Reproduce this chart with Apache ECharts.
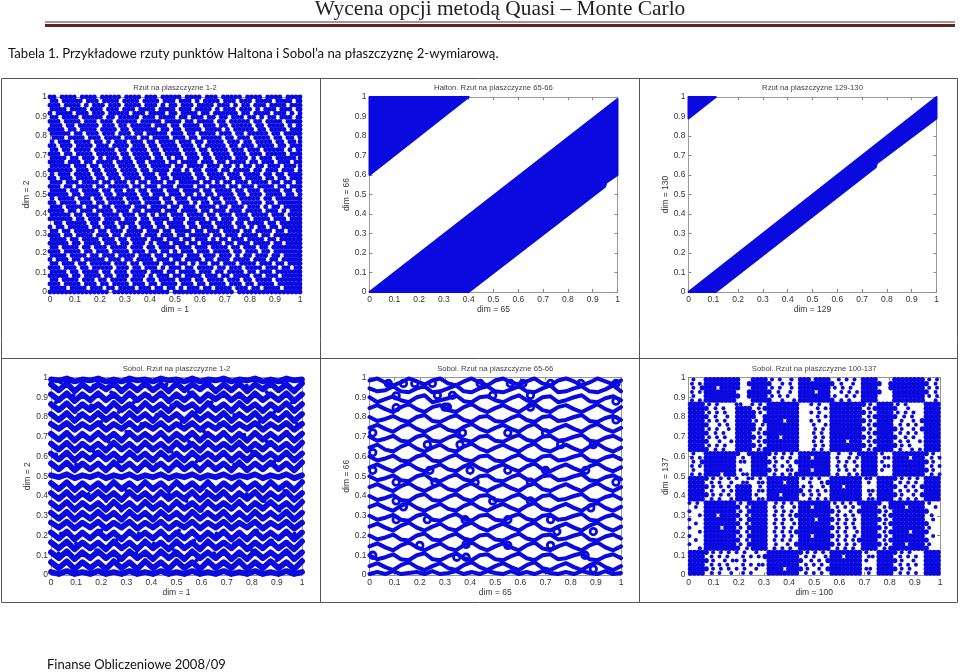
<!DOCTYPE html>
<html><head><meta charset="utf-8">
<style>html,body{margin:0;padding:0;background:#fff}#c{width:960px;height:672px}</style>
<script src="https://cdn.jsdelivr.net/npm/echarts@6/dist/echarts.min.js"></script>
</head><body><div id="c"></div>
<script>
// Point maps: '#' = a cluster of plotted points, '.' = empty. Top row is y = 1.
const haltonPlane12 = [
"##.####.####.#####.####.###.#####.####.###.#####.####.####.####",
"##.#####.###.####.####.####.###.###.#.####.###.###.####.####.##",
"###.####.#.###.###.####.###.#.##.###.####.###.#.##.###.####.###",
"####.####.###.###.###.####.####.###.####.#.###.###.#.###.###.##",
"#.####.###.###.#####.###.####.##.####.##.######.##.####.###.#.#",
"##.####.#####.##.#####.###.####.##.###.##.##.###.##.#.##.###.##",
"###.####.###.###.#####.#####.####.##.####.##.#####.##.####.####",
"###.##.#####.###.##.#####.###.##.####.###.##.#####.##.####.#.##",
"####.##.####.####.##.######.##.##.####.####.#.#####.##.####.###",
"#####.##.###.###.###.##.#####.###.##.####.###.##.#####.##.#####",
".###.####.###.####.###.##.####.###.##.#####.##.###.####.##.##.#",
"#.###.####.##.#.###.###.##.####.###.##.####.###.##.####.##.##.#",
"##.###.####.###.####.###.##.####.###.#.#####.##.###.####.##.###",
"##.##.####.#####.##.####.##.####.###.##.####.###.###.#####.#.##",
"###.##.####.#####.##.####.##.####.###.##.####.###.###.#####.###",
"####.##.###.#.###.##.####.##.#.##.###.##.####.###.#.###.#####.#",
"####.###.##.####.####.##.####.##.####.###.##.####.##.###.###.##",
"#####.###.##.###.####.##.#####.##.####.###.##.#.##.##.###.###.#",
"######.###.##.###.####.##.####.##.#.##.###.##.####.##.###.###.#",
"#.###.####.##.###.####.###.##.#####.##.####.###.####.##.##.####",
"##.###.####.##.###.####.###.##.#####.##.####.###.####.##.##.###",
"###.###.####.##.###.#.##.###.##.#####.##.#.##.###.####.##.##.##",
"###.##.####.##.#####.##.###.###.####.##.####.##.###.####.##.###",
"####.##.####.##.##.##.##.###.###.####.##.####.##.###.####.##.##",
"#####.##.####.##.#####.##.###.###.##.#.##.####.##.###.####.##.#",
"#.####.###.##.####.###.####.##.###.####.##.###.#####.##.#######",
"##.####.###.##.####.###.####.##.###.#.##.##.###.#####.##.######",
"###.####.###.##.####.###.####.##.###.####.##.###.###.#.##.#####",
"####.##.###.####.###.##.####.###.####.##.###.###.####.###.#.###",
"#####.##.###.####.###.##.#.##.###.####.##.###.###.####.###.####",
"######.##.###.####.###.##.####.###.####.##.###.###.####.###.###",
".##.#####.##.###.####.###.##.####.##.###.####.##.####.##.######",
"#.##.#####.##.###.#.##.###.##.####.##.###.####.##.#.##.##.#####",
"##.##.#####.##.###.####.###.##.####.##.###.####.##.####.##.####",
"###.##.####.###.##.####.###.###.##.#####.##.###.####.##.#######",
"####.##.####.###.##.####.###.###.##.###.#.##.###.####.##.######",
"#####.##.####.###.##.###.#.###.###.##.#####.##.###.####.##.####",
"##.####.##.###.####.###.##.####.###.###.####.##.###.##.########",
"###.####.##.###.####.###.##.##.#.###.###.####.##.###.##.#######",
"####.####.##.###.####.###.##.####.###.###.###.#.##.###.##.#####",
"#.###.##.#####.###.##.####.###.##.####.##.###.####.###.##.#####",
"##.###.##.#####.###.##.####.###.##.#.##.##.###.####.###.##.####",
"###.###.##.#####.###.##.###.#.###.##.####.##.###.####.###.##.##",
"####.##.####.##.###.####.###.##.####.###.##.####.##.###.#######",
"#####.##.####.##.###.###.#.###.##.####.###.##.####.##.###.#####",
"##.####.###.##.####.###.##.####.###.##.####.###.##.####.#######",
"###.####.###.##.####.###.##.####.###.##.####.###.##.####.######",
"####.####.###.##.####.###.##.##.#.###.##.####.###.##.####.#####",
"###############.##############.###############.################"
];
// Sobol 1-2: the blue zigzag runs across the square, sampled along waveXs.
const waveXs = [0,.031,.063,.094,.125,.156,.188,.219,.25,.281,.313,.344,.375,.406,.438,.469,.5,.531,.563,.594,.625,.656,.688,.719,.75,.781,.813,.844,.875,.906,.938,.969,1];
const sobol12Runs = [
[.99,.985,.995,.98,.99,.985,.995,.98,.99,.98,.995,.985,.99,.98,.995,.985,.99,.98,.995,.98,.99,.985,.995,.98,.99,.985,.995,.98,.99,.98,.995,.985,.99],
[.965,.935,.97,.93,.965,.935,.965,.94,.97,.93,.965,.935,.97,.935,.965,.93,.97,.935,.965,.94,.97,.93,.965,.935,.97,.93,.965,.94,.97,.935,.965,.93,.97],
[.915,.885,.92,.88,.915,.885,.92,.885,.915,.88,.92,.885,.915,.885,.92,.88,.915,.885,.92,.88,.915,.89,.92,.885,.915,.88,.92,.885,.915,.885,.92,.88,.915],
[.865,.835,.87,.83,.865,.835,.865,.83,.87,.835,.865,.83,.87,.835,.865,.83,.87,.84,.865,.83,.87,.835,.865,.83,.87,.835,.865,.83,.865,.835,.87,.83,.865],
[.815,.785,.82,.78,.815,.785,.82,.785,.815,.78,.82,.785,.815,.78,.82,.785,.815,.78,.82,.785,.815,.785,.82,.78,.815,.785,.82,.78,.815,.785,.82,.78,.815],
[.765,.74,.77,.735,.765,.74,.77,.735,.765,.74,.77,.735,.765,.74,.77,.735,.765,.74,.77,.735,.765,.74,.77,.735,.765,.74,.77,.735,.765,.74,.77,.735,.765],
[.715,.685,.72,.68,.715,.685,.72,.685,.715,.68,.72,.685,.715,.685,.72,.68,.715,.685,.72,.68,.715,.685,.72,.68,.715,.68,.72,.685,.715,.685,.72,.68,.715],
[.665,.635,.67,.63,.665,.635,.665,.63,.67,.635,.665,.63,.67,.635,.665,.63,.67,.635,.665,.63,.67,.635,.665,.635,.67,.63,.665,.635,.67,.635,.665,.63,.67],
[.615,.585,.62,.58,.615,.585,.62,.585,.615,.58,.62,.585,.615,.58,.62,.585,.615,.58,.62,.585,.615,.585,.62,.58,.615,.58,.62,.585,.615,.585,.62,.58,.615],
[.565,.535,.57,.53,.565,.535,.565,.53,.57,.535,.565,.53,.57,.535,.565,.53,.57,.535,.565,.53,.57,.535,.565,.53,.57,.53,.565,.535,.57,.535,.565,.53,.57],
[.505,.495,.51,.49,.505,.495,.51,.49,.505,.495,.51,.49,.505,.495,.51,.49,.505,.495,.51,.49,.505,.495,.51,.49,.505,.495,.51,.49,.505,.495,.51,.49,.505],
[.465,.435,.47,.43,.465,.435,.465,.43,.47,.435,.465,.43,.47,.435,.465,.43,.47,.435,.465,.43,.47,.43,.465,.435,.47,.435,.465,.43,.47,.435,.465,.43,.47],
[.415,.385,.42,.38,.415,.385,.42,.385,.415,.38,.42,.385,.415,.38,.42,.385,.415,.385,.42,.38,.415,.385,.42,.38,.415,.385,.42,.38,.415,.385,.42,.38,.415],
[.365,.335,.37,.33,.365,.335,.365,.33,.37,.335,.365,.33,.37,.335,.365,.33,.37,.335,.365,.33,.37,.335,.365,.335,.37,.33,.365,.335,.37,.335,.365,.33,.37],
[.315,.285,.32,.28,.315,.285,.32,.285,.315,.28,.32,.285,.315,.28,.32,.285,.315,.28,.32,.285,.315,.285,.32,.28,.315,.28,.32,.285,.315,.285,.32,.28,.315],
[.265,.24,.27,.235,.265,.24,.27,.235,.265,.24,.27,.235,.265,.24,.27,.235,.265,.24,.27,.235,.265,.24,.27,.235,.265,.24,.27,.235,.265,.24,.27,.235,.265],
[.215,.185,.22,.18,.215,.185,.22,.185,.215,.18,.22,.185,.215,.185,.22,.18,.215,.185,.22,.18,.215,.185,.22,.18,.215,.18,.22,.185,.215,.185,.22,.18,.215],
[.165,.135,.17,.13,.165,.135,.165,.13,.17,.135,.165,.13,.17,.135,.165,.13,.17,.135,.165,.13,.17,.135,.165,.135,.17,.13,.165,.135,.17,.135,.165,.13,.17],
[.115,.085,.12,.08,.115,.085,.12,.085,.115,.08,.12,.085,.115,.08,.12,.085,.115,.08,.12,.085,.115,.085,.12,.08,.115,.08,.12,.085,.115,.085,.12,.08,.115],
[.065,.035,.07,.03,.065,.035,.065,.03,.07,.035,.065,.03,.07,.035,.065,.03,.07,.035,.065,.03,.07,.035,.065,.035,.07,.03,.065,.035,.07,.035,.065,.03,.07],
[.015,.005,.02,.005,.015,.005,.02,.005,.015,.005,.02,.005,.015,.005,.02,.005,.015,.005,.02,.005,.015,.005,.02,.005,.015,.005,.02,.005,.015,.005,.02,.005,.015]
];
const sobol12Dots = [[.04,.975],[.17,.96],[.31,.975],[.46,.965],[.62,.975],[.78,.96],[.92,.975],[.09,.91],[.24,.925],[.39,.91],[.55,.925],[.7,.91],[.86,.925],[.02,.875],[.16,.86],[.33,.875],[.48,.86],[.64,.875],[.81,.86],[.96,.875],[.11,.81],[.27,.825],[.42,.81],[.58,.825],[.73,.81],[.89,.825],[.05,.765],[.2,.775],[.36,.765],[.52,.775],[.67,.765],[.83,.775],[.98,.765],[.13,.71],[.3,.725],[.45,.71],[.61,.725],[.77,.71],[.94,.725],[.07,.66],[.23,.675],[.38,.66],[.55,.675],[.7,.66],[.86,.675],[.02,.61],[.17,.625],[.33,.61],[.48,.625],[.64,.61],[.8,.625],[.95,.61],[.1,.56],[.27,.575],[.42,.56],[.58,.575],[.73,.56],[.89,.575],[.15,.41],[.3,.425],[.47,.41],[.62,.425],[.78,.41],[.93,.425],[.06,.36],[.22,.375],[.38,.36],[.54,.375],[.69,.36],[.85,.375],[.12,.31],[.28,.325],[.44,.31],[.6,.325],[.75,.31],[.91,.325],[.04,.21],[.2,.225],[.35,.21],[.51,.225],[.66,.21],[.82,.225],[.97,.21],[.1,.16],[.26,.175],[.41,.16],[.57,.175],[.73,.16],[.88,.175],[.03,.11],[.18,.125],[.34,.11],[.49,.125],[.65,.11],[.8,.125],[.95,.11],[.12,.06],[.27,.075],[.43,.06],[.58,.075],[.74,.06],[.9,.075]];
// Sobol 65-66: wavy chains and the small loops between them.
const sobol6566Runs = [
[.985,.995,.975,.96,.975,.995,.98,.965,.985,.995,.97,.96,.98,.995,.975,.96,.985,.995,.975,.965,.98,.995,.97,.96,.985,.995,.98,.96,.975,.995,.98,.965,.985],
[.945,.93,.935,.955,.93,.925,.945,.955,.925,.93,.945,.96,.93,.925,.945,.955,.93,.925,.94,.955,.93,.925,.945,.96,.925,.93,.945,.955,.93,.925,.94,.96,.93],
[.9,.875,.89,.905,.885,.875,.9,.91,.875,.885,.895,.91,.88,.875,.9,.905,.885,.875,.895,.91,.885,.875,.9,.905,.875,.885,.9,.91,.88,.875,.895,.905,.885],
[.845,.86,.84,.825,.85,.865,.84,.825,.85,.86,.835,.825,.85,.865,.84,.825,.845,.86,.84,.825,.85,.865,.835,.825,.85,.86,.84,.825,.845,.865,.84,.825,.85],
[.8,.78,.79,.805,.785,.775,.8,.81,.78,.775,.795,.81,.785,.775,.8,.805,.78,.775,.795,.81,.785,.775,.8,.805,.78,.785,.8,.81,.78,.775,.795,.805,.785],
[.745,.76,.74,.725,.75,.765,.74,.725,.745,.76,.735,.725,.75,.765,.74,.725,.745,.76,.74,.725,.75,.765,.735,.725,.745,.76,.74,.725,.75,.765,.74,.725,.745],
[.7,.68,.69,.705,.68,.675,.7,.71,.68,.675,.695,.71,.685,.675,.7,.705,.68,.675,.695,.71,.685,.675,.7,.705,.68,.685,.7,.71,.68,.675,.695,.705,.685],
[.645,.66,.635,.625,.65,.665,.64,.625,.645,.66,.635,.625,.65,.665,.64,.625,.645,.66,.64,.625,.65,.665,.635,.625,.645,.66,.64,.625,.65,.665,.64,.625,.645],
[.6,.58,.59,.605,.58,.575,.6,.61,.58,.575,.595,.61,.585,.575,.6,.605,.58,.575,.595,.61,.585,.575,.6,.605,.58,.585,.6,.61,.58,.575,.595,.605,.585],
[.545,.56,.54,.525,.55,.565,.54,.525,.545,.56,.535,.525,.55,.565,.54,.525,.545,.56,.54,.525,.55,.565,.535,.525,.545,.56,.54,.525,.55,.565,.54,.525,.545],
[.5,.48,.49,.505,.48,.475,.5,.51,.48,.475,.495,.51,.485,.475,.5,.505,.48,.475,.495,.51,.485,.475,.5,.505,.48,.485,.5,.51,.48,.475,.495,.505,.485],
[.445,.46,.44,.425,.45,.465,.44,.425,.445,.46,.435,.425,.45,.465,.44,.425,.445,.46,.44,.425,.45,.465,.435,.425,.445,.46,.44,.425,.45,.465,.44,.425,.445],
[.4,.38,.39,.405,.38,.375,.4,.41,.38,.375,.395,.41,.385,.375,.4,.405,.38,.375,.395,.41,.385,.375,.4,.405,.38,.385,.4,.41,.38,.375,.395,.405,.385],
[.345,.36,.34,.325,.35,.365,.34,.325,.345,.36,.335,.325,.35,.365,.34,.325,.345,.36,.34,.325,.35,.365,.335,.325,.345,.36,.34,.325,.35,.365,.34,.325,.345],
[.3,.28,.29,.305,.28,.275,.3,.31,.28,.275,.295,.31,.285,.275,.3,.305,.28,.275,.295,.31,.285,.275,.3,.305,.28,.285,.3,.31,.28,.275,.295,.305,.285],
[.245,.26,.24,.225,.25,.265,.24,.225,.245,.26,.235,.225,.25,.265,.24,.225,.245,.26,.24,.225,.25,.265,.235,.225,.245,.26,.24,.225,.25,.265,.24,.225,.245],
[.2,.18,.19,.205,.18,.175,.2,.21,.18,.175,.195,.21,.185,.175,.2,.205,.18,.175,.195,.21,.185,.175,.2,.205,.18,.185,.2,.21,.18,.175,.195,.205,.185],
[.145,.16,.14,.125,.15,.165,.14,.125,.145,.16,.135,.125,.15,.165,.14,.125,.145,.16,.14,.125,.15,.165,.135,.125,.145,.16,.14,.125,.15,.165,.14,.125,.145],
[.1,.08,.09,.105,.08,.075,.1,.11,.08,.075,.095,.11,.085,.075,.1,.105,.08,.075,.095,.11,.085,.075,.1,.105,.08,.085,.1,.11,.08,.075,.095,.105,.085],
[.045,.06,.04,.025,.05,.065,.04,.025,.045,.06,.035,.025,.05,.065,.04,.025,.045,.06,.04,.025,.05,.065,.035,.025,.045,.06,.04,.025,.05,.065,.04,.025,.045],
[.005,.015,.005,.02,.005,.01,.015,.005,.02,.005,.01,.02,.005,.015,.005,.02,.01,.005,.02,.005,.015,.005,.02,.01,.005,.015,.005,.02,.01,.005,.02,.005,.01]
];
const sobol6566Loops = [[.075,.97],[.135,.97],[.106,.907],[.106,.847],[.49,.91],[.61,.97],[.64,.91],[.64,.85],[.37,.72],[.013,.72],[.36,.66],[.89,.66],[.013,.62],[.013,.53],[.106,.47],[.106,.375],[.135,.345],[.106,.28],[.64,.47],[.49,.375],[.64,.375],[.86,.53],[.857,.1],[.384,.155],[.013,.1],[.347,.09],[.384,.09],[.89,.03],[.89,.22],[.745,.22],[.98,.97],[.98,.88],[.98,.785],[.98,.47],[.18,.97],[.27,.91],[.3,.85],[.25,.97],[.33,.91],[.31,.85],[.44,.97],[.56,.97],[.72,.97],[.84,.97],[.23,.66],[.55,.72],[.7,.72],[.76,.66],[.24,.53],[.4,.53],[.55,.53],[.7,.53],[.26,.47],[.42,.47],[.23,.28],[.38,.28],[.55,.28],[.72,.28],[.88,.34],[.2,.15],[.55,.15],[.72,.15]];
const sobolPlane100137 = [
".#.. ######## #... #### .#.#..#. ###.#### ..#.#.#. #### .... ######## .#.#",
"#.#. ######## #..# #### #..#.#.. ######## #.#..#.. #### #..# ######## #.#.",
".#.# ###.#### #... #### .#.#..#. ######## .#.#.#.. #### ...# ######## .#.#",
"#.#. ######## ...# #### #.#..#.. ####.### ..#.#.#. #### #... ######## #.#.",
".#.. ######## #..# #### .#.#.#.. ######## .#..#.#. #### .... ######## .#.#",
"#.#. ######## .... #### #..#..#. ######## #.#.#... #### .... ######## ..#.",
"#### .#.#.... ##.. #.#. ######## ...#.#.. ######## #.#. #### .#.#.... ####",
"#### #.#.#... #### .#.# ######## ....#.#. ######## .#.# #### #..#.... ####",
"#### .#.#.#.. #### #.#. ######## ...#.#.. ######## #.#. #### .#.#.#.. ####",
"#### #.#..#.. #### #..# ######## ....#.#. ######## .#.# #### #.#.#... ####",
"#### .#.#.#.. #### .#.# ####.### ...#.#.. ######## #.#. #### ..#..#.# ####",
"#### #..#.#.. #### #.#. ######## ...#..#. ######## .#.# #### .#.#.#.. ####",
"#### .#.#..#. #### #.#. ######## ....#.#. ######## #.#. #### #.#..#.# ####",
"#### #.#.#... #### .#.# ######## ...#.#.. ######## .#.# #### .#.#.#.. ####",
"#### .#.#.#.. #### #.#. ###.#### ....#.#. ######## #.#. #### #..#.#.. ####",
"#### #..#..#. #### .#.# ######## ...#.#.. ####.### .#.# #### .#.#..#. ####",
"#### .#.#.#.. #### #.#. ######## ....#.#. ######## #.#. #### #.#.#... ####",
"#### #.#.#... #### .#.# ######## ...#.#.. ######## .#.# #### .#..#.#. ####",
".#.. ######## #..# #### #.#.#.#. ######## ..#..#.# #### .#.. ######## #.#.",
"#.#. ######## .#.. #### .#.#.#.. ###.#### .#..#.#. #### .##. ####.### .#.#",
".#.# ######## .##. #### #.#..#.# ######## ..#.#.#. #### .#.. ######## #.#.",
"#.#. ######## .... #### .#.#.#.. ######## .#.#..#. #### .##. ######## .#.#",
".#.. ######## .#.. #### #.#..##. ###.#### ..#.#.#. #### .#.. ######## #.#.",
"#.#. ####.### .##. #### .#.#.#.# ######## .#..#.#. #### .... ######## .#.#",
"#### #.#.#.#. #..# #.#. ######## .#.#.#.. ######## .##. #### #.#.#.#. ####",
"#### .#.#..#. .##. .##. ####.### ..#..#.# ######## .#.. #### .#.#.#.. ####",
"#### #.#.#.#. #### ..#. ######## .#.#..#. ###.#### .... #### #..#.#.# ####",
"#### .#..#.#. #### .##. ######## #.#.#.#. ######## .##. #### .#.#.#.. ####",
"#### #.#.#.#. #### .#.. ###.#### .#.#.#.. ######## ..#. #### #.#..#.# ####",
"#### .#.#..#. #### .##. ######## ..#.#.#. ######## .##. #### .#.#.#.. ####",
"#.#. ######## .#.# #### ..#.#.#. ######## .#.#.#.# #### #..# ######## .#..",
".#.. ######## #.#. #### .#.#..#. ###.#### .#.#.#.. #### .#.# ###.#### ..#.",
"#... ######## .#.# #### ..#.#.#. ######## #.#..#.# #### #.#. ######## #...",
"..#. ###.#### #.#. #### .#.#.#.# ######## .#.#.#.. #### .#.# ######## .#..",
"#... ######## .#.# #### ..#.#.#. ####.### #.#.#.#. #### #.#. ######## ..#.",
".#.. ######## #.#. #### .#.#..#. ######## .#.#.#.. #### .#.# ######## #...",
"#... ####.### .#.# #### ..#.#.#. ######## #.#.#.#. #### #.#. ######## .#..",
"..#. ######## #.#. #### .#.#.#.# ######## .#.#..#. #### .#.# ####.### #...",
"#... ######## .#.# #### ..#.#.#. ###.#### #.#.#.#. #### #.#. ######## ..#.",
".#.. ######## #.#. #### .#.#.#.. ######## .#.#.#.# #### .#.# ######## #...",
"#... ######## .#.# #### ..#..#.# ######## #.#.#.#. #### #.#. ###.#### .#..",
"..#. ######## #.#. #### .#.#.#.. ######## .#.#.#.. #### .#.# ######## #...",
"#### #.#.#.#. #.#. .#.. ######## #.#.#.#. ######## .#.. #### #.#.#... ####",
"#### .#.#.#.. .#.# .#.# ######## .#.#..#. ###.#### .##. #### .#.#.#.. ####",
"#### #.#..#.# #.#. .... ######## #..#.#.# ######## .#.. #### #.#..#.. ####",
"#### .#.#.#.. .#.# .##. ######## .#.#.#.. ######## .... #### .#.#.#.. ####",
"#### #.#.#.#. #.#. .#.. ####.### #.#..#.# ######## .##. #### #.#.#... ####",
"#### .#.#..#. .#.# .... ######## .#.#.#.. ######## .#.. #### .#.#.#.. ####"
];
// Solid bands where the points merge, as [dim x, dim y] outlines.
const haltonPlane6566Corner = [[0,0.6],[0,1],[0.4,1]];
const haltonPlane6566Band = [[0,0],[0.4,0],[0.95,0.54],[0.955,0.56],[1,0.6],[1,0.99]];
const haltonPlane129Corner = [[0,0.89],[0,1],[0.11,1]];
const haltonPlane129Band = [[0,0],[0.11,0],[0.755,0.64],[0.76,0.66],[1,0.89],[1,1]];

const axisTicks = {min:0,max:1,interval:0.1};
const panelTitles = ['Rzut na plaszczyzne 1-2','Halton. Rzut na plaszczyzne 65-66','Rzut na plaszczyzne 129-130','Sobol. Rzut na plaszczyzne 1-2','Sobol. Rzut na plaszczyzne 65-66','Sobol. Rzut na plaszczyzne 100-137'];
const xNames = ['dim = 1','dim = 65','dim = 129','dim = 1','dim = 65','dim = 100'];
const yNames = ['dim = 2','dim = 66','dim = 130','dim = 2','dim = 66','dim = 137'];
const headerTitle = 'Wycena opcji metodą Quasi – Monte Carlo';
const tableCaption = 'Tabela 1. Przykładowe rzuty punktów Haltona i Sobol’a na płaszczyznę 2-wymiarową.';
const footerText = 'Finanse Obliczeniowe 2008/09';

const grids = [
 {left:50,top:97,width:250,height:195},{left:369.5,top:97,width:248,height:195},{left:688.5,top:97,width:248,height:195},
 {left:51,top:377.5,width:251,height:197.5},{left:369.5,top:377.5,width:251.5,height:197.5},{left:688.5,top:377.5,width:251.5,height:197.5}
];
const BLUE = '#0a0ae0';
function decode(rows, stagger){
  const out = [];
  rows.forEach((raw,r)=>{
    const row = raw.replace(/ /g,'');
    const n = row.length;
    for(let c=0;c<n;c++){
      if(row[c]!=='#') continue;
      out.push([Math.min(1,(c+(stagger&&r%2?0.5:0))/(n-1)),1-r/(rows.length-1)]);
    }
  });
  return out;
}
// panel 6: runs of filled cells are merged blocks, short runs are single points
function decodeCells(rows){
  const clean = rows.map(r=>r.replace(/ /g,''));
  const merged=[],single=[];
  clean.forEach((row,r)=>{
    const n=row.length;
    for(let c=0;c<n;c++){
      if(row[c]!=='#') continue;
      let a=c,b=c;
      while(row[a-1]==='#')a--;
      while(row[b+1]==='#')b++;
      const x=(c+0.5)/n, y=1-(r+0.5)/clean.length;
      if(b-a+1>=3) merged.push([x,y]);
      else single.push([Math.min(1,x+(r%2?0.006:-0.004)),y]);
    }
  });
  return {merged,single};
}
const lbl = {fontFamily:'Liberation Sans',fontSize:8.5,color:'#333'};
const xAxis=[],yAxis=[],title=[];
grids.forEach((g,i)=>{
  title.push({text:panelTitles[i],left:g.left+g.width/2,top:g.top-13,padding:0,textAlign:'center',textStyle:{fontFamily:'Liberation Sans',fontSize:7.7,fontWeight:'normal',color:'#444'}});
  xAxis.push({type:'value',gridIndex:i,...axisTicks,name:xNames[i],nameLocation:'middle',nameGap:13,nameTextStyle:lbl,
    axisLine:{lineStyle:{color:'#999',width:1},onZero:false},axisTick:{inside:true,length:3,lineStyle:{color:'#888'}},axisLabel:{...lbl,margin:3,hideOverlap:false,showMinLabel:true,showMaxLabel:true},splitLine:{show:false}});
  yAxis.push({type:'value',gridIndex:i,...axisTicks,name:yNames[i],nameLocation:'middle',nameGap:17,nameTextStyle:lbl,
    axisLine:{lineStyle:{color:'#999',width:1},onZero:false},axisTick:{inside:true,length:3,lineStyle:{color:'#888'}},axisLabel:{...lbl,margin:3,hideOverlap:false,showMinLabel:true,showMaxLabel:true},splitLine:{show:false}});
});
grids.forEach((g,i)=>{
  xAxis.push({type:'value',gridIndex:i,position:'top',...axisTicks,axisLine:{lineStyle:{color:'#999'},onZero:false},axisTick:{inside:true,length:3,lineStyle:{color:'#888'}},axisLabel:{show:false},splitLine:{show:false}});
  yAxis.push({type:'value',gridIndex:i,position:'right',...axisTicks,axisLine:{lineStyle:{color:'#999'},onZero:false},axisTick:{inside:true,length:3,lineStyle:{color:'#888'}},axisLabel:{show:false},splitLine:{show:false}});
});
function points(i,data,size,extra){
  return Object.assign({type:'scatter',xAxisIndex:i,yAxisIndex:i,data,symbol:'circle',symbolSize:size,itemStyle:{color:BLUE,opacity:1},silent:true,animation:false,clip:false,z:3},extra||{});
}
function runs(i,list,width){
  return list.map(ys=>({type:'line',xAxisIndex:i,yAxisIndex:i,data:ys.map((y,k)=>[waveXs[k],y]),symbol:'none',showSymbol:false,silent:true,clip:false,z:3,lineStyle:{color:BLUE,width,join:'round',cap:'round'}}));
}
function band(i,verts){
  return {type:'custom',xAxisIndex:i,yAxisIndex:i,data:[[verts[0][0],verts[0][1]]],clip:false,silent:true,z:3,
    renderItem:(p,api)=>({type:'polygon',shape:{points:verts.map(v=>api.coord(v))},style:{fill:BLUE,stroke:BLUE,lineWidth:2,lineJoin:'round'}})};
}
const cells = decodeCells(sobolPlane100137);
const series=[
  points(0,decode(haltonPlane12,true),4.9),
  band(1,haltonPlane6566Corner),band(1,haltonPlane6566Band),
  band(2,haltonPlane129Corner),band(2,haltonPlane129Band),
  ...runs(3,sobol12Runs,5.8),
  points(3,sobol12Dots,4),
  ...runs(4,sobol6566Runs,4),
  points(4,sobol6566Loops,6.5,{itemStyle:{color:'rgba(0,0,0,0)',borderColor:BLUE,borderWidth:2.8,opacity:1}}),
  points(5,cells.merged,5.3),
  points(5,cells.single,4)
];
const ln=(x1,y1,x2,y2,c,w)=>({type:'line',silent:true,shape:{x1,y1,x2,y2},style:{stroke:c,lineWidth:w}});
const txt=(x,y,text,font,fill,align)=>({type:'text',silent:true,x,y,style:{text,font,fill,align:align||'left',verticalAlign:'middle'}});
const graphic=[
  ln(45,22,955,22,'#622423',1),ln(45,25.5,955,25.5,'#622423',3),
  {type:'rect',silent:true,shape:{x:1.5,y:78.5,width:956,height:524},style:{fill:'none',stroke:'#555',lineWidth:1}},
  ln(1.5,358.5,957.5,358.5,'#555',1),ln(320.5,78.5,320.5,602.5,'#555',1),ln(639.5,78.5,639.5,602.5,'#555',1),
  txt(500,9,headerTitle,'21.4px "Liberation Serif"','#222','center'),
  txt(8,54,tableCaption,'13.15px Lato','#111'),
  txt(47,665,footerText,'13px Lato','#111')
];
const chart=echarts.init(document.getElementById('c'),null,{renderer:'canvas'});
chart.setOption({animation:false,backgroundColor:'#fff',title,grid:grids.map(g=>({...g,containLabel:false})),xAxis,yAxis,series,graphic});
</script></body></html>
